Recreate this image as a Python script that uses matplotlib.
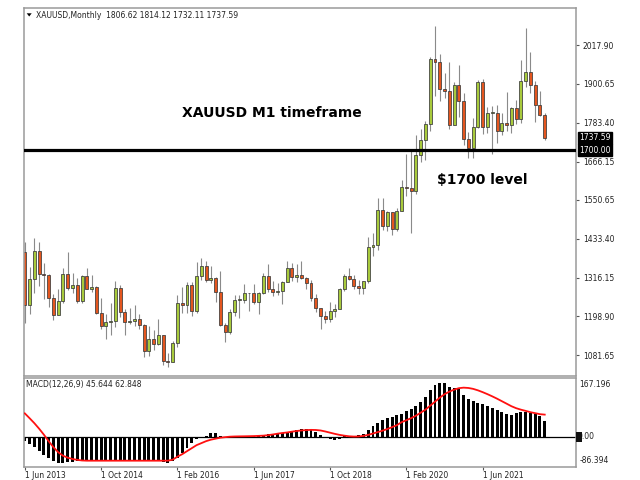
import matplotlib
matplotlib.use("Agg")
import matplotlib.pyplot as plt
from matplotlib.patches import Polygon
import numpy as np

# ---------------- data (monthly XAUUSD, Jun 2013 .. Jul 2022) ----------------
opens = [1393, 1234, 1313, 1396, 1327, 1323, 1253,
         1202, 1244, 1326, 1284, 1295, 1246, 1322, 1282, 1287, 1210, 1171, 1183,
         1184, 1283, 1213, 1183, 1184, 1190, 1172, 1095, 1132, 1115, 1142, 1065,
         1061, 1118, 1238, 1233, 1293, 1214, 1322, 1351, 1309, 1316, 1273, 1173,
         1151, 1211, 1249, 1249, 1268, 1268, 1242, 1269, 1322, 1280, 1271, 1275,
         1303, 1345, 1318, 1325, 1315, 1299, 1253, 1224, 1200, 1192, 1215, 1222,
         1282, 1321, 1313, 1292, 1284, 1305, 1409, 1413, 1520, 1472, 1513, 1464,
         1517, 1589, 1585, 1577, 1686, 1730, 1780, 1975, 1968, 1886, 1879, 1776,
         1898, 1848, 1734, 1708, 1769, 1906, 1770, 1814, 1814, 1757, 1783, 1775,
         1829, 1796, 1909, 1937, 1897, 1837, 1806.62]
highs = [1424, 1348, 1434, 1424, 1361, 1327, 1267,
         1280, 1345, 1392, 1331, 1315, 1325, 1345, 1323, 1292, 1255, 1206, 1238,
         1307, 1293, 1220, 1224, 1233, 1205, 1175, 1170, 1157, 1191, 1143, 1088,
         1124, 1263, 1287, 1303, 1304, 1362, 1375, 1367, 1352, 1317, 1337, 1180,
         1220, 1264, 1262, 1296, 1270, 1296, 1271, 1331, 1357, 1306, 1299, 1307,
         1366, 1361, 1356, 1365, 1317, 1309, 1266, 1223, 1214, 1243, 1237, 1284,
         1326, 1346, 1324, 1310, 1306, 1439, 1452, 1555, 1557, 1516, 1515, 1525,
         1611, 1689, 1704, 1747, 1765, 1789, 1981, 2075, 1992, 1933, 1966, 1906,
         1959, 1872, 1755, 1798, 1913, 1916, 1832, 1834, 1836, 1814, 1877, 1831,
         1853, 1974, 2070, 1998, 1910, 1879, 1814.12]
lows = [1180, 1207, 1270, 1291, 1251, 1226, 1187,
        1202, 1238, 1277, 1268, 1240, 1240, 1281, 1271, 1206, 1161, 1131, 1142,
        1167, 1197, 1142, 1175, 1170, 1162, 1077, 1080, 1098, 1112, 1052, 1046,
        1062, 1107, 1208, 1208, 1199, 1208, 1310, 1302, 1301, 1241, 1171, 1122,
        1147, 1200, 1195, 1240, 1214, 1237, 1205, 1266, 1271, 1261, 1264, 1237,
        1303, 1307, 1303, 1312, 1282, 1246, 1211, 1160, 1180, 1183, 1196, 1221,
        1276, 1310, 1281, 1266, 1267, 1300, 1382, 1400, 1459, 1458, 1445, 1458,
        1517, 1563, 1451, 1567, 1666, 1671, 1757, 1863, 1849, 1859, 1764, 1776,
        1802, 1717, 1677, 1677, 1766, 1750, 1751, 1688, 1721, 1746, 1759, 1753,
        1780, 1781, 1890, 1872, 1787, 1805, 1732.11]
closes = [1234, 1313, 1396, 1327, 1323, 1253, 1202,
          1244, 1326, 1284, 1295, 1246, 1322, 1282, 1287, 1210, 1171, 1183, 1184,
          1283, 1213, 1183, 1184, 1190, 1172, 1095, 1132, 1115, 1142, 1065, 1061,
          1118, 1238, 1233, 1293, 1214, 1322, 1351, 1309, 1316, 1273, 1173, 1151,
          1211, 1249, 1249, 1268, 1268, 1242, 1269, 1322, 1280, 1271, 1275, 1303,
          1345, 1318, 1325, 1315, 1299, 1253, 1224, 1200, 1192, 1215, 1222, 1282,
          1321, 1313, 1292, 1284, 1305, 1409, 1413, 1520, 1472, 1513, 1464, 1517,
          1589, 1585, 1577, 1686, 1730, 1780, 1975, 1968, 1886, 1879, 1776, 1898,
          1848, 1734, 1708, 1769, 1906, 1770, 1814, 1814, 1757, 1783, 1775, 1829,
          1796, 1909, 1937, 1897, 1837, 1807, 1737.59]

macd_main = [-11.4, -20.0, -28.5, -39.9, -51.3, -59.9, -68.4, -74.1, -74.1, -71.3,
             -71.3, -68.4, -68.4, -68.4, -65.6, -65.6, -65.6, -68.4, -68.4, -68.4,
             -65.6, -65.6, -65.6, -65.6, -65.6, -68.4, -68.4, -68.4, -68.4, -71.3,
             -74.1, -68.4, -59.9, -45.6, -31.4, -17.1, -5.7, -1.4, 2.9, 10.0,
             10.0, 2.9, -2.9, -2.9, -1.4, 0.9, 1.4, 0.9, 0.9, 2.9,
             5.7, 7.1, 7.1, 8.6, 11.4, 14.3, 17.1, 20.0, 21.4, 21.4,
             20.0, 14.3, 5.7, -4.3, -7.1, -8.6, -5.7, 1.4, 2.9, 2.9,
             4.3, 8.6, 20.0, 31.4, 39.9, 48.5, 54.2, 57.0, 61.3, 65.6,
             74.1, 79.8, 88.4, 99.8, 114.0, 134.0, 148.2, 152.5, 153.9, 142.5,
             139.7, 135.4, 119.7, 108.3, 102.6, 96.9, 94.1, 86.9, 82.7, 77.0,
             69.8, 65.6, 62.7, 67.0, 71.3, 69.8, 68.4, 65.6, 58.4, 45.644]
macd_signal = [66.4, 52.7, 38.5, 22.8, 5.7, -12.8, -29.9, -44.2, -54.2, -59.9,
               -63.6, -66.1, -67.8, -68.4, -68.4, -68.4, -68.4, -68.4, -68.4, -68.4,
               -68.4, -68.4, -68.4, -68.4, -68.4, -68.4, -68.4, -68.4, -68.4, -68.4,
               -68.4, -65.6, -57.0, -49.9, -41.3, -32.8, -24.2, -18.5, -12.8, -8.6,
               -5.7, -2.9, -1.4, 0.0, 0.6, 0.9, 1.1, 1.4, 1.7, 2.3,
               2.9, 4.3, 6.3, 8.6, 10.5, 12.0, 14.3, 16.2, 17.7, 18.8,
               19.4, 19.1, 17.7, 14.8, 11.4, 8.0, 5.1, 2.9, 1.1, 0.3,
               0.6, 2.3, 5.1, 9.1, 13.1, 17.1, 21.9, 27.1, 32.8, 41.3,
               47.0, 52.7, 59.9, 68.4, 77.0, 88.4, 99.8, 111.2, 121.1, 128.3,
               134.0, 138.2, 139.7, 138.8, 136.2, 132.0, 126.8, 121.1, 114.9, 108.3,
               101.2, 94.1, 86.9, 81.2, 77.0, 73.5, 69.8, 67.0, 64.1, 62.848]

date_tick_idx = [0, 16, 32, 48, 64, 80, 96]
date_tick_labels = ["1 Jun 2013", "1 Oct 2014", "1 Feb 2016", "1 Jun 2017",
                    "1 Oct 2018", "1 Feb 2020", "1 Jun 2021"]
price_ticks = [1081.65, 1198.90, 1316.15, 1433.40, 1550.65, 1666.15, 1783.40, 1900.65, 2017.90]
level = 1700.00
macd_top, macd_bottom = 167.196, -86.394

# ---------------- figure ----------------
W, H = 640, 480
fig = plt.figure(figsize=(6.4, 4.8), dpi=100)
fig.patch.set_facecolor("white")

def fx(px):
    return px / W

def fy(py):
    return 1 - py / H

L, R = 23.5, 576
ax = fig.add_axes([fx(L), fy(375.5), fx(R - L), (375.5 - 8) / H])
ax2 = fig.add_axes([fx(L), fy(467.0), fx(R - L), (467.0 - 378) / H])

n = len(closes)
x = np.arange(n)
bar_px = 4.77
x0_px = 24.8
xlim = (-(x0_px - L) / bar_px, (R - x0_px) / bar_px)

spine_col = "#9a9a9a"
small_font = dict(family="DejaVu Sans", size=5.5)

# ---------------- candles ----------------
bull_col = "#a8ca3c"
bear_col = "#e4561f"
o = np.array(opens, float)
c = np.array(closes, float)
h = np.array(highs, float)
lo = np.array(lows, float)
ax.vlines(x, lo, h, color="#8a8a8a", linewidth=0.8, zorder=1)
cols = [bull_col if cc >= oo else bear_col for oo, cc in zip(o, c)]
bot = np.minimum(o, c)
hgt = np.maximum(np.abs(c - o), 0.8)
ax.bar(x, hgt, bottom=bot, width=0.62, color=cols, edgecolor="#3a3a3a",
       linewidth=0.55, zorder=2)

ax.axhline(level, color="black", linewidth=2.3, zorder=3)

ax.set_xlim(*xlim)
ax.set_ylim(1020.4, 2129.6)
ax.set_xticks([])
ax.yaxis.tick_right()
ax.set_yticks(price_ticks)
ax.set_yticklabels([f"{v:.2f}" for v in price_ticks], **small_font)
ax.tick_params(axis="y", direction="out", length=2.5, width=0.8, color="#555555",
               pad=2.5, labelcolor="#222222")
for s in ax.spines.values():
    s.set_color(spine_col)
    s.set_linewidth(1.1)

# right-side value boxes
for val in [closes[-1], level]:
    ax.annotate(f"{val:.2f}", xy=(1.0, val), xycoords=("axes fraction", "data"),
                xytext=(2.6, 0), textcoords="offset points", ha="left", va="center",
                color="white", family="DejaVu Sans", size=5.5, zorder=5,
                bbox=dict(boxstyle="square,pad=0.18", fc="black", ec="black"),
                annotation_clip=False)

# ---------------- MACD ----------------
ax2.bar(x, macd_main, width=0.62, color="black", linewidth=0, zorder=2)
ax2.plot(x, macd_signal, color="#ff1010", linewidth=1.3, zorder=3)
ax2.axhline(0, color="black", linewidth=0.9, zorder=1)
ax2.set_xlim(*xlim)
ax2.set_ylim(macd_bottom, macd_top)
ax2.yaxis.tick_right()
ax2.set_yticks([])
ax2.set_xticks(date_tick_idx)
ax2.set_xticklabels(date_tick_labels, **small_font)
ax2.tick_params(axis="x", direction="out", length=2.0, width=0.8, color="#555555",
                pad=0.6, labelcolor="#222222")
for lab in ax2.get_xticklabels():
    lab.set_ha("left")
for s in ax2.spines.values():
    s.set_color(spine_col)
    s.set_linewidth(1.1)

# right labels of MACD window
ax2.annotate(f"{macd_top:.3f}", xy=(1.0, macd_top), xycoords=("axes fraction", "data"),
             xytext=(2.6, -1.5), textcoords="offset points", ha="left", va="top",
             color="#222222", annotation_clip=False, **small_font)
ax2.annotate(f"{macd_bottom:.3f}", xy=(1.0, macd_bottom), xycoords=("axes fraction", "data"),
             xytext=(2.6, 1.5), textcoords="offset points", ha="left", va="bottom",
             color="#222222", annotation_clip=False, **small_font)
ax2.annotate("0.00", xy=(1.0, 0), xycoords=("axes fraction", "data"),
             xytext=(0.8, 0), textcoords="offset points", ha="left", va="center",
             color="#222222", annotation_clip=False, **small_font)
fig.patches.append(plt.Rectangle((fx(576.3), fy(441.8)), fx(5.6), 9.5 / H,
                                 transform=fig.transFigure, fc="#111111", ec="none",
                                 zorder=10))

# ---------------- texts ----------------
fig.patches.append(Polygon([[fx(26.7), fy(13.3)], [fx(31.7), fy(13.3)], [fx(29.2), fy(16.5)]],
                           closed=True, transform=fig.transFigure, fc="black", ec="none"))
fig.text(fx(36.5), fy(18.5), "XAUUSD,Monthly  1806.62 1814.12 1732.11 1737.59",
         ha="left", va="baseline", color="#222222", **small_font)
fig.text(fx(25.5), fy(386.5), f"MACD(12,26,9) {macd_main[-1]:.3f} {macd_signal[-1]:.3f}",
         ha="left", va="baseline", color="#222222", **small_font)

fig.text(fx(182), fy(117.3), "XAUUSD M1 timeframe", ha="left", va="baseline",
         family="DejaVu Sans", weight="bold", size=10, color="black")
fig.text(fx(437), fy(184.2), "$1700 level", ha="left", va="baseline",
         family="DejaVu Sans", weight="bold", size=10, color="black")

fig.savefig("out.png", dpi=100, facecolor="white")
